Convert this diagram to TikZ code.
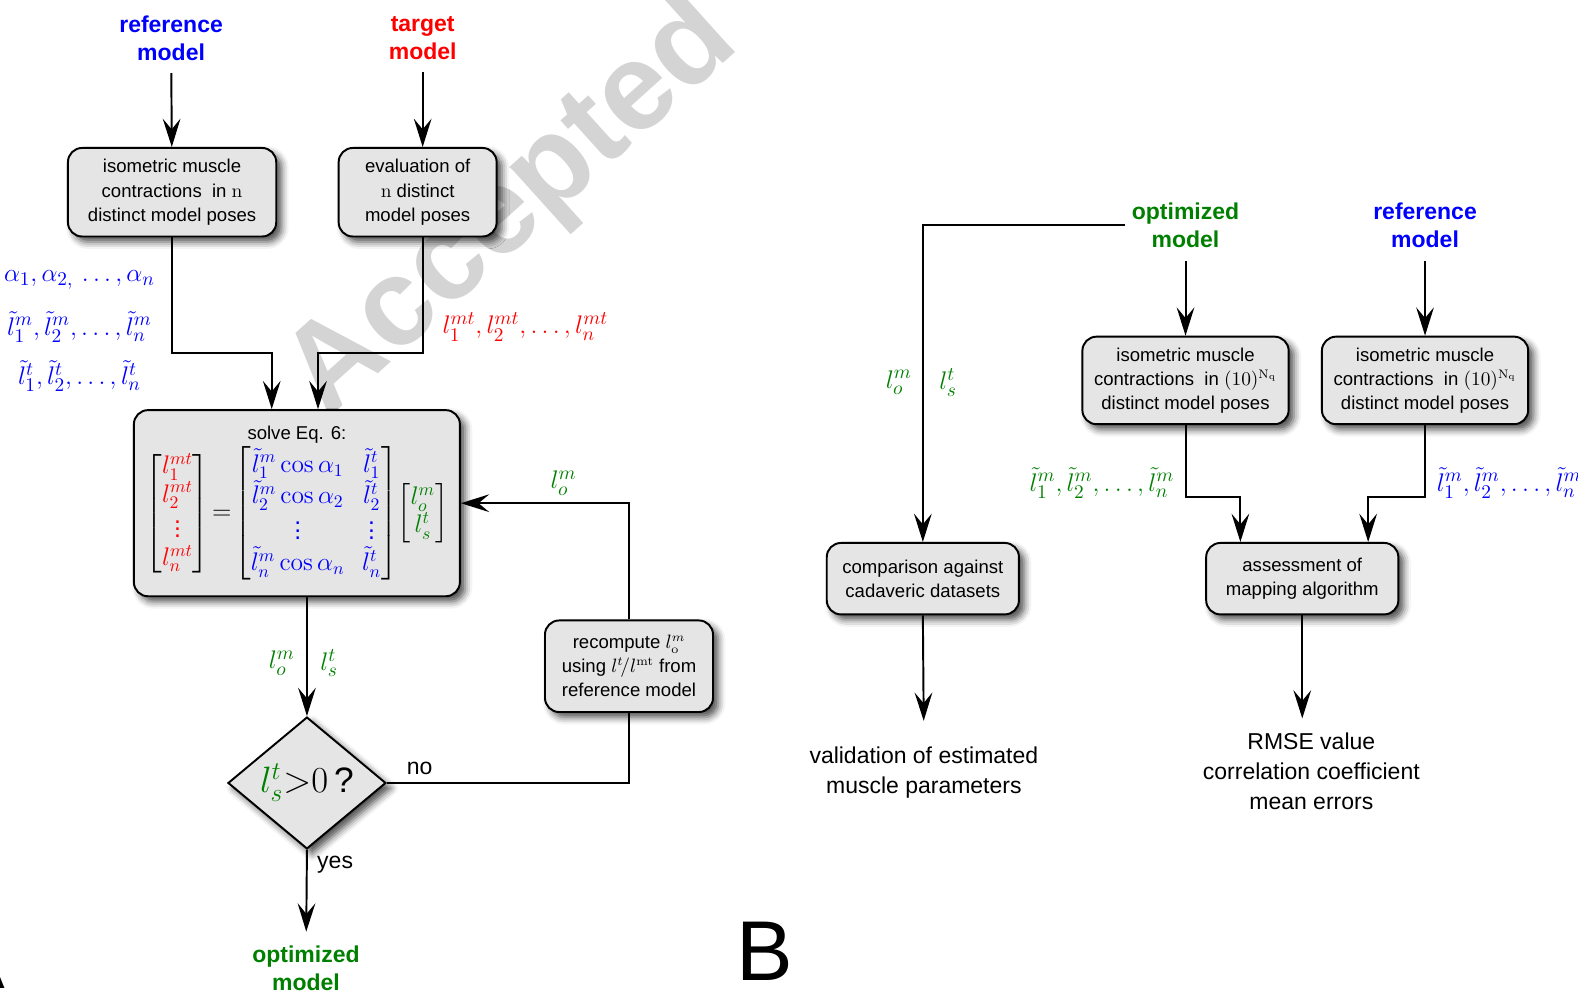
\documentclass[tikz,border=0pt]{standalone}
\usepackage{amssymb}
\usepackage{amsmath}
\usepackage{amsfonts}
\usepackage{xcolor}
\usepackage[no-math]{fontspec}
\setmainfont{Liberation Sans}
\usetikzlibrary{arrows.meta,shapes.geometric,shadows.blur}

\definecolor{myblue}{RGB}{0,0,255}
\definecolor{myred}{RGB}{255,0,0}
\definecolor{mygreen}{RGB}{0,128,0}

\begin{document}
\begin{tikzpicture}[x=0.02cm,y=-0.02cm,line width=1.1pt,
        shade/.style={blur shadow={shadow xshift=3pt,shadow yshift=-3pt,shadow blur radius=4pt,shadow opacity=70}},
        box/.style={draw,fill=black!10,rounded corners=8pt,align=center,inner sep=2pt,
            font=\fontsize{10.5}{13.6}\selectfont,shade},
        decision/.style={diamond,draw,fill=black!10,inner sep=0pt,
            minimum width=3.14cm,minimum height=2.44cm,shade},
        head/.style={align=center,font=\bfseries\fontsize{13}{16}\selectfont},
        txt/.style={align=center,font=\fontsize{13}{17}\selectfont},
        lab/.style={font=\fontsize{15}{18}\selectfont},
        arr/.style={-{Stealth[length=16pt,width=10pt,inset=6pt]}}]
    \useasboundingbox (0,0) rectangle (1568,985);

    % Watermark
    \node[black!17,rotate=42,font=\bfseries\fontsize{70}{70}\selectfont] (wm) at (510,208) {Accepted};

    % Nodes (A)
    \node[head,myblue] (refA) at (170,38) {reference\\model};
    \node[head,myred] (tgt) at (420,38) {target\\model};
    \node[box,minimum width=4.14cm,minimum height=1.76cm] (isoA) at (171,191)
        {isometric muscle\\contractions~ in $\mathrm{n}$\\distinct model poses};
    \node[box,minimum width=3.14cm,minimum height=1.76cm] (eval) at (415,191)
        {evaluation of\\$\mathrm{n}$ distinct\\model poses};
    \node[lab,myblue] (alpha) at (79,278) {$\alpha_1,\alpha_{2,}\,\dots,\alpha_n$};
    \node[lab,myblue] (lmA) at (79,325) {$\tilde{l}^m_1,\tilde{l}^m_2,\dots,\tilde{l}^m_n$};
    \node[lab,myblue] (ltA) at (79,374) {$\tilde{l}^t_1,\tilde{l}^t_2,\dots,\tilde{l}^t_n$};
    \node[lab,myred] (lmt) at (522,325) {$l^{mt}_1,l^{mt}_2,\dots,l^{mt}_n$};
    \node[box,minimum width=6.48cm,minimum height=3.7cm] (solve) at (295,500)
        {solve Eq. 6:\\[1pt]
        \fontsize{14}{15}\selectfont
        $\begin{bmatrix}\color{myred}l^{mt}_1\\\color{myred}l^{mt}_2\\\color{myred}\vdots\\\color{myred}l^{mt}_n\end{bmatrix}
        \!=\!\begin{bmatrix}\color{myblue}\tilde{l}^m_1\cos\alpha_1 & \color{myblue}\tilde{l}^t_1\\
        \color{myblue}\tilde{l}^m_2\cos\alpha_2 & \color{myblue}\tilde{l}^t_2\\
        \color{myblue}\vdots & \color{myblue}\vdots\\
        \color{myblue}\tilde{l}^m_n\cos\alpha_n & \color{myblue}\tilde{l}^t_n\end{bmatrix}
        \!\begin{bmatrix}\color{mygreen}l^m_o\\\color{mygreen}l^t_s\end{bmatrix}$};
    \node[lab,mygreen] (loA) at (280,659) {$l^m_o$};
    \node[lab,mygreen] (lsA) at (327,659) {$l^t_s$};
    \node[decision] (check) at (305,778)
        {\fontsize{20}{22}\selectfont$\color{mygreen}l^t_s\color{black}{>}0\,$?};
    \node[box,minimum width=3.34cm,minimum height=1.82cm] (recomp) at (625,662)
        {recompute $l^{m}_{\mathrm{o}}$\\using $l^{t}\!/l^{\mathrm{mt}}$ from\\reference model};
    \node[lab,mygreen] (loR) at (560,480) {$l^m_o$};
    \node[txt] (no) at (417,764) {no};
    \node[txt] (yes) at (333,859) {yes};
    \node[head,mygreen] (optA) at (304,962) {optimized\\model};
    \node[anchor=base east,inner sep=0pt,font=\fontsize{48}{48}\selectfont] (A) at (6,982) {A};

    % Nodes (B)
    \node[head,mygreen] (optB) at (1178,223.5) {optimized\\model};
    \node[head,myblue] (refB) at (1416,223.5) {reference\\model};
    \node[lab,mygreen] (loB) at (893,380) {$l^m_o$};
    \node[lab,mygreen] (lsB) at (942,380) {$l^t_s$};
    \node[box,minimum width=4.1cm,minimum height=1.74cm] (isoB) at (1178,378)
        {isometric muscle\\contractions~ in $(10)^{\mathrm{N}_\mathrm{q}}$\\distinct model poses};
    \node[box,minimum width=4.1cm,minimum height=1.74cm] (isoC) at (1416,378)
        {isometric muscle\\contractions~ in $(10)^{\mathrm{N}_\mathrm{q}}$\\distinct model poses};
    \node[lab,mygreen] (lmB) at (1095,480) {$\tilde{l}^m_1,\tilde{l}^m_2,\dots,\tilde{l}^m_n$};
    \node[lab,myblue,anchor=west] (lmC) at (1421,480) {$\tilde{l}^m_1,\tilde{l}^m_2,\dots,\tilde{l}^m_n$};
    \node[box,minimum width=3.82cm,minimum height=1.42cm] (cmp) at (917,575)
        {comparison against\\cadaveric datasets};
    \node[box,minimum width=3.82cm,minimum height=1.42cm] (assess) at (1294,575)
        {assessment of\\mapping algorithm};
    \node[txt] (valid) at (918,768) {validation of estimated\\muscle parameters};
    \node[txt] (rmse) at (1303,766) {RMSE value\\correlation coefficient\\mean errors};
    \node[font=\fontsize{48}{48}\selectfont] (B) at (760,945) {B};

    % Edges (A)
    \draw[arr,shorten <=3pt] (refA) -- (isoA);
    \draw[arr,shorten <=3pt] (tgt) -- (eval.north -| tgt);
    \draw[arr] (isoA.south) -- ++(0,115) -| ([xshift=-0.5cm]solve.north);
    \draw[arr] (eval.south -| tgt) -- ++(0,115) -| ([xshift=0.42cm]solve.north);
    \draw[arr] (solve.south -| check.north) -- (check.north);
    \draw (check.east) -| (recomp.south);
    \draw[arr] (recomp.north) |- (solve.east);
    \draw[arr,shorten >=4pt] (check.south) -- (optA);

    % Edges (B)
    \draw[arr] (optB.west) -| (cmp.north);
    \draw[arr,shorten <=4pt] (optB) -- (isoB);
    \draw[arr,shorten <=4pt] (refB) -- (isoC);
    \draw[arr] (isoB.south) -- ++(0,71) -| ([xshift=-1.23cm]assess.north);
    \draw[arr] (isoC.south) -- ++(0,71) -| ([xshift=1.31cm]assess.north);
    \draw[arr,shorten >=11pt] (cmp.south) -- (valid.north);
    \draw[arr,shorten >=4pt] (assess.south) -- (assess.south |- rmse.north);
\end{tikzpicture}
\end{document}
